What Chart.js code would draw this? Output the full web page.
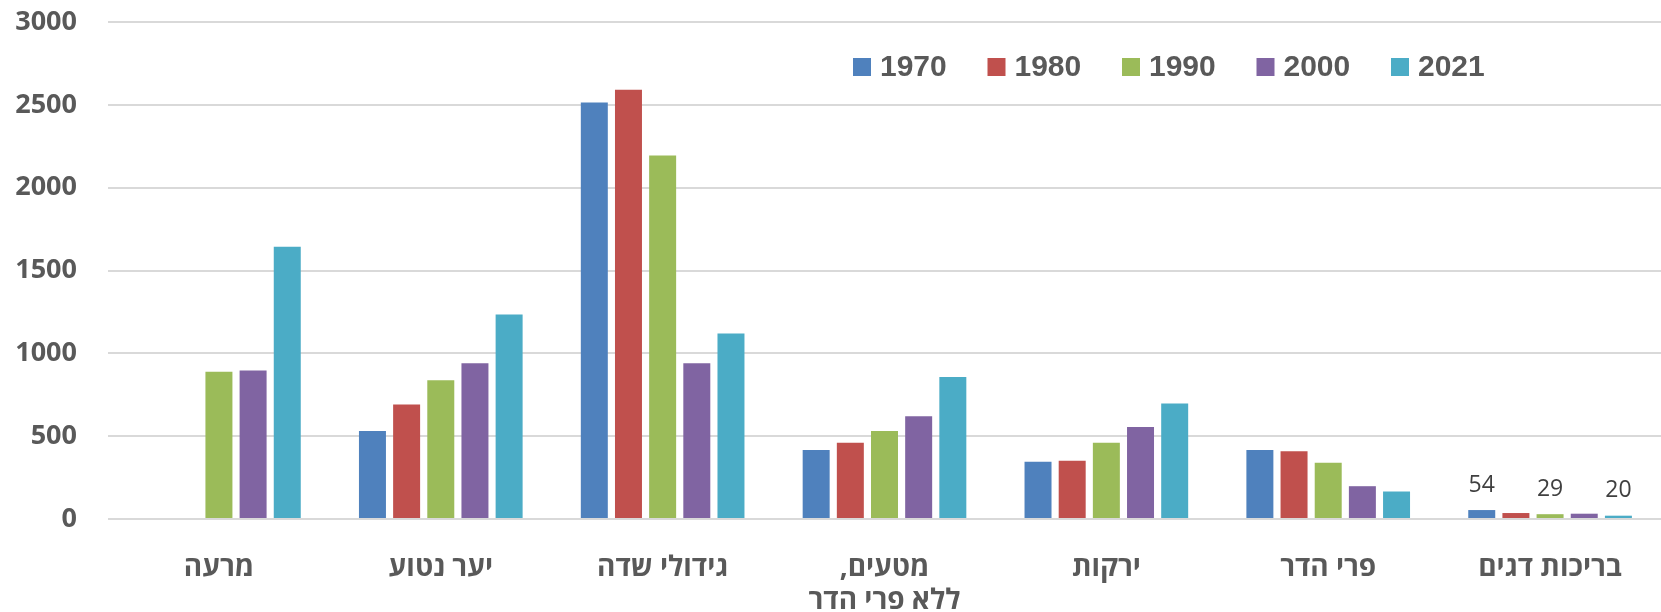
<!DOCTYPE html>
<html>
<head>
<meta charset="utf-8">
<script src="https://cdn.jsdelivr.net/npm/chart.js@4.4.1/dist/chart.umd.min.js"></script>
<style>
  body { margin: 0; background: #fff; }
  #wrap { width: 1661px; height: 612px; }
</style>
</head>
<body>
<div id="wrap"><canvas id="landchart"></canvas></div>
<script>
const categories = ["מרעה", "יער נטוע", "גידולי שדה", ["מטעים,\u200F", "ללא פרי הדר"], "ירקות", "פרי הדר", "בריכות דגים"];
const years = ["1970", "1980", "1990", "2000", "2021"];
const colors = ["#4f81bd", "#c0504d", "#9bbb59", "#8064a2", "#4bacc6"];

const v1970 = [0, 531, 2514, 416, 345, 416, 54];
const v1980 = [0, 691, 2591, 460, 352, 409, 36];
const v1990 = [889, 838, 2194, 531, 460, 339, 29];
const v2000 = [896, 940, 940, 620, 556, 198, 32];
const v2021 = [1644, 1235, 1119, 857, 697, 166, 20];

const yTicks = [0, 500, 1000, 1500, 2000, 2500, 3000];

// only some bars of the last group carry a value label
const shownLabels = [
  { series: 0, index: 6 },
  { series: 2, index: 6 },
  { series: 4, index: 6 },
];

const allSeries = [v1970, v1980, v1990, v2000, v2021];
const textGray = "#595959";
const fontFam = '"Open Sans", "DejaVu Sans", sans-serif';

const extras = {
  id: "extras",
  afterDatasetsDraw(chart) {
    const ctx = chart.ctx;
    ctx.save();
    // value labels
    ctx.font = "23px " + fontFam;
    ctx.fillStyle = "#404040";
    ctx.textAlign = "center";
    ctx.textBaseline = "middle";
    shownLabels.forEach(l => {
      const bar = chart.getDatasetMeta(l.series).data[l.index];
      ctx.fillText(String(allSeries[l.series][l.index]), bar.x, bar.y - 25);
    });
    // legend inside the plot
    ctx.font = "bold 30px 'Liberation Sans', Arial, sans-serif";
    ctx.textAlign = "left";
    ctx.textBaseline = "alphabetic";
    chart.data.datasets.forEach((ds, i) => {
      const x = 853 + i * 134.5;
      ctx.fillStyle = ds.backgroundColor;
      ctx.fillRect(x, 58, 18, 18);
      ctx.fillStyle = textGray;
      ctx.fillText(ds.label, x + 27, 76);
    });
    ctx.restore();
  }
};

const chart = new Chart(document.getElementById("landchart").getContext("2d"), {
  type: "bar",
  data: {
    labels: categories,
    datasets: years.map((y, i) => ({
      label: y,
      data: allSeries[i],
      backgroundColor: colors[i],
      borderWidth: 0,
      barPercentage: 0.79,
      categoryPercentage: 0.77,
    })),
  },
  options: {
    responsive: true,
    maintainAspectRatio: false,
    animation: false,
    layout: { padding: { top: 22, right: 0, bottom: 0, left: 0 } },
    plugins: {
      legend: { display: false },
      tooltip: { enabled: false },
    },
    scales: {
      x: {
        grid: { display: false },
        border: { display: false },
        ticks: {
          color: textGray,
          font: { family: fontFam, size: 28, weight: "bold", lineHeight: 1.2 },
          padding: 24,
          maxRotation: 0,
          autoSkip: false,
        },
        afterFit(scale) {
          scale.height = 93;
          scale.paddingLeft = 0;
          scale.paddingRight = 0;
        },
      },
      y: {
        min: 0,
        max: 3000,
        afterBuildTicks(scale) { scale.ticks = yTicks.map(v => ({ value: v })); },
        grid: { color: "#d9d9d9", lineWidth: 2, drawTicks: false },
        border: { display: false },
        ticks: {
          color: textGray,
          font: { family: fontFam, size: 27, weight: "bold" },
          padding: 31,
          callback: v => String(v),
        },
        afterFit(scale) {
          scale.width = 108;
          scale.paddingTop = 0;
          scale.paddingBottom = 0;
        },
      },
    },
  },
  plugins: [extras],
});
</script>
</body>
</html>
